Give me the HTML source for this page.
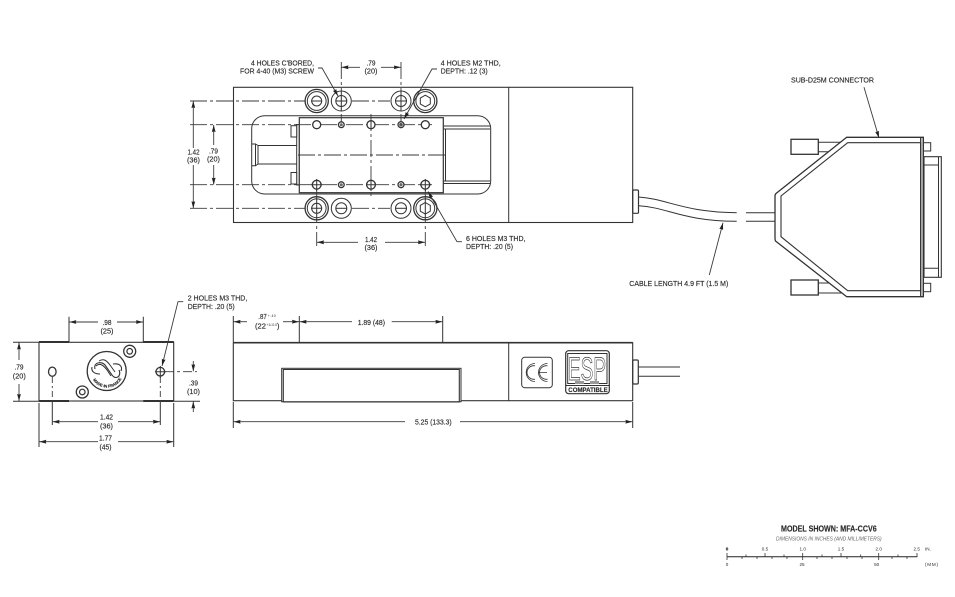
<!DOCTYPE html>
<html>
<head>
<meta charset="utf-8">
<style>
html,body{margin:0;padding:0;background:#fff;}
svg{display:block;}
text{font-family:"Liberation Sans Narrow","Liberation Sans",sans-serif;font-size:7.4px;fill:#2c2c2c;stroke:#2c2c2c;stroke-width:.15;}
.l{fill:none;stroke:#333;stroke-width:1;}
.h{fill:none;stroke:#333;stroke-width:1.3;}
.w{fill:#fff;stroke:#333;stroke-width:1;}
.t{fill:#fff;stroke:#333;stroke-width:1.3;}
.c{fill:none;stroke:#3a3a3a;stroke-width:.9;stroke-dasharray:17 3 3 3;}
.e{fill:none;stroke:#3a3a3a;stroke-width:.9;marker-end:url(#a);}
.m{text-anchor:middle;}
</style>
</head>
<body>
<svg width="955" height="597" viewBox="0 0 955 597" xmlns="http://www.w3.org/2000/svg">
<defs>
<marker id="a" markerUnits="userSpaceOnUse" markerWidth="8" markerHeight="5" refX="7" refY="2.5" orient="auto">
<path d="M0,.6 L7,2.5 L0,4.4 L.6,2.5 Z" fill="#222"/>
</marker>
</defs>

<!-- TOP VIEW -->
<rect class="l" x="233.5" y="87.3" width="399.2" height="135.2" style="stroke-width:1.1"/>
<line class="l" x1="508.7" y1="87.3" x2="508.7" y2="222.5"/>
<rect class="l" x="251.7" y="115.7" width="239" height="78.3" rx="13"/>
<path class="l" d="M443.5,126 H490 M443.5,129 H490 M443.5,181 H490 M443.5,183.5 H490 M445.5,129 V181"/>
<path class="l" d="M252,144 H255.5 V165.7 H252 M255.5,144 L258,145.5 V164 L255.5,165.7 M258,145.5 H296.7 M258,164 H296.7"/>
<rect class="l" x="296.7" y="124.5" width="2.6" height="60.5"/>
<rect class="w" x="291" y="125.7" width="5.7" height="11.3"/>
<rect class="w" x="291" y="172.5" width="5.7" height="11.5"/>
<rect class="w" x="299.3" y="117.7" width="144" height="75" style="stroke-width:1.2"/>

<path class="c" d="M190,101 H306 M352,101 H390"/>
<path class="c" d="M190,208.3 H306 M352,208.3 H390"/>
<path class="c" d="M190,124.7 H432"/>
<path class="c" d="M190,184.7 H432"/>
<path class="c" d="M298,155 H447"/>
<path class="c" d="M371,114 V196"/>
<path class="c" d="M341.3,62 V128"/>
<path class="c" d="M401,62 V128"/>
<path class="c" d="M316.7,180 V246"/>
<path class="c" d="M425.3,180 V246"/>

<!-- top row holes -->
<g>
<circle class="t" cx="316.7" cy="101" r="11.6"/><circle class="l" cx="316.7" cy="101" r="9.4"/><circle class="l" cx="316.7" cy="101" r="5"/>
<line class="l" x1="311" y1="101" x2="322" y2="101"/>
<circle class="w" cx="341.3" cy="101" r="10"/><circle class="l" cx="341.3" cy="101" r="5.5"/>
<path class="l" d="M336,101 H347 M341.3,91 V111"/>
<circle class="w" cx="401" cy="101" r="10"/><circle class="l" cx="401" cy="101" r="5.5"/>
<path class="l" d="M396,101 H406 M401,91 V111"/>
<circle class="t" cx="425.3" cy="101" r="11.6"/><circle class="l" cx="425.3" cy="101" r="9.4"/>
<path class="l" d="M425.3,95.2 L430.3,98.1 V103.9 L425.3,106.8 L420.3,103.9 V98.1 Z"/>
</g>
<!-- bottom row holes -->
<g>
<circle class="t" cx="316.7" cy="208.3" r="11.6"/><circle class="l" cx="316.7" cy="208.3" r="9.4"/><circle class="l" cx="316.7" cy="208.3" r="5"/>
<path class="l" d="M311,208.3 H322 M316.7,197 V220"/>
<circle class="w" cx="341.3" cy="208.3" r="10"/><circle class="l" cx="341.3" cy="208.3" r="5.5"/>
<line class="l" x1="336" y1="208.3" x2="347" y2="208.3"/>
<circle class="w" cx="401" cy="208.3" r="10"/><circle class="l" cx="401" cy="208.3" r="5.5"/>
<line class="l" x1="396" y1="208.3" x2="406" y2="208.3"/>
<circle class="t" cx="425.3" cy="208.3" r="11.6"/><circle class="l" cx="425.3" cy="208.3" r="9.4"/>
<path class="l" d="M425.3,202.5 L430.3,205.4 V211.2 L425.3,214.1 L420.3,211.2 V205.4 Z M425.3,197 V220"/>
</g>
<!-- inner holes -->
<g>
<circle class="t" cx="316.7" cy="124.7" r="4"/>
<circle class="t" cx="341.3" cy="124.7" r="2.9"/><circle cx="341.3" cy="124.7" r="1.5" fill="#666"/>
<circle class="t" cx="371" cy="124.7" r="4"/><line class="l" x1="371" y1="120" x2="371" y2="129"/>
<circle class="t" cx="401" cy="124.7" r="3"/><circle cx="401" cy="124.7" r="1.8" fill="#555"/>
<circle class="t" cx="425.3" cy="124.7" r="4"/>
<circle class="t" cx="316.7" cy="184.7" r="4.4"/><path class="l" d="M311,184.7 H322 M316.7,179 V191"/>
<circle class="t" cx="341.3" cy="184.7" r="2.9"/><circle cx="341.3" cy="184.7" r="1.5" fill="#666"/>
<circle class="t" cx="371" cy="184.7" r="4.4"/><path class="l" d="M371,179 V191 M366,184.7 H376"/>
<circle class="t" cx="401" cy="184.7" r="3"/><circle cx="401" cy="184.7" r="1.6" fill="#666"/>
<circle class="t" cx="425.3" cy="184.7" r="4.4"/><path class="l" d="M425.3,179 V191 M420,184.7 H431"/>
</g>

<!-- top dims -->
<path class="e" d="M193.3,148 V101"/>
<path class="e" d="M193.3,165 V208.3"/>
<path class="e" d="M213.7,145 V125"/>
<path class="e" d="M213.7,165 V184.7"/>
<path class="e" d="M360,67.3 H341.5"/>
<path class="e" d="M381,67.3 H400.8"/>
<path class="e" d="M358,242.3 H317"/>
<path class="e" d="M385,242.3 H425"/>
<path class="e" d="M318,68 L322,68 L338,96"/>
<path class="e" d="M437,69 L432,69 L404,119"/>
<path class="e" d="M462,241.7 L457,241.7 L428,191.5"/>

<text x="314" y="65.5" text-anchor="end" textLength="63" lengthAdjust="spacingAndGlyphs">4 HOLES C'BORED,</text>
<text x="240" y="73.5" textLength="74" lengthAdjust="spacingAndGlyphs">FOR 4-40 (M3) SCREW</text>
<text x="366.5" y="65.5" textLength="9" lengthAdjust="spacingAndGlyphs">.79</text>
<text x="364.5" y="73.5" textLength="13" lengthAdjust="spacingAndGlyphs">(20)</text>
<text x="440.7" y="65.5" textLength="60" lengthAdjust="spacingAndGlyphs">4 HOLES M2 THD,</text>
<text x="440.7" y="73.5" textLength="47" lengthAdjust="spacingAndGlyphs">DEPTH: .12 (3)</text>
<text x="466" y="241" textLength="59.5" lengthAdjust="spacingAndGlyphs">6 HOLES M3 THD,</text>
<text x="466" y="249" textLength="47" lengthAdjust="spacingAndGlyphs">DEPTH: .20 (5)</text>
<text x="365" y="242" textLength="12" lengthAdjust="spacingAndGlyphs">1.42</text>
<text x="364.5" y="250" textLength="13" lengthAdjust="spacingAndGlyphs">(36)</text>
<text x="187.5" y="154.7" textLength="12" lengthAdjust="spacingAndGlyphs">1.42</text>
<text x="187" y="162.7" textLength="13" lengthAdjust="spacingAndGlyphs">(36)</text>
<text x="209" y="153.5" textLength="9" lengthAdjust="spacingAndGlyphs">.79</text>
<text x="207" y="161.7" textLength="13" lengthAdjust="spacingAndGlyphs">(20)</text>

<!-- cable top -->
<rect class="l" x="632.7" y="190" width="5.8" height="23.3" rx="1.2" style="stroke-width:1.2"/>
<path class="l" d="M638.5,197 C668,199 682,212 736.7,212.7 M746,212.7 H775"/>
<path class="l" d="M638.5,205.7 C668,207.5 682,221 736.7,221.3 M746,221.3 H775"/>

<!-- connector -->
<rect class="t" x="791" y="139.3" width="27.3" height="15"/>
<rect class="t" x="791" y="280" width="27.3" height="15"/>
<path class="l" d="M818.3,142.3 H842 M818.3,151.7 H830 M818.3,283 H830 M818.3,293 H845"/>
<rect class="l" x="923.3" y="142.7" width="7.4" height="8.3"/>
<rect class="l" x="923.3" y="283.3" width="7.4" height="8.4"/>
<rect class="l" x="924" y="156.7" width="17.3" height="120.6" style="stroke-width:1.1"/>
<path class="l" d="M924,165 H938.5 V268.3 H924 M938.5,157 V165 M938.5,268.3 V277"/>
<path class="t" d="M846.7,137.3 H923.3 V296.7 H846.7 L775.5,241 Q775,240 775,238 V196 Q775,194.5 776,193.5 Z"/>
<path class="l" d="M847.7,142.7 H920.7 V290.7 H847.7 L781,236.7 V196 Z" style="stroke-width:1.1"/>
<line class="l" x1="923.3" y1="137.3" x2="923.3" y2="296.7" style="stroke-width:1.3"/>
<line class="l" x1="920.7" y1="137.3" x2="920.7" y2="296.7" style="stroke-width:1.3"/>

<text x="791" y="82.7" textLength="83" lengthAdjust="spacingAndGlyphs">SUB-D25M CONNECTOR</text>
<path class="e" d="M864,87.3 L879,138"/>
<text x="629.3" y="286" textLength="99" lengthAdjust="spacingAndGlyphs">CABLE LENGTH 4.9 FT (1.5 M)</text>
<path class="e" d="M709.3,275 L723,222.7"/>

<!-- FRONT VIEW -->
<rect class="l" x="39" y="342.3" width="134.7" height="58.7" style="stroke-width:1.1"/>
<path class="h" d="M39,342 H69 M143.3,342 H173.7 M39,401 H69 M143.3,401 H173.7" style="stroke-width:1.9"/>
<path class="l" d="M69,316.7 V342 M143.3,316.7 V342 M13,342.3 H39 M13,401.3 H39 M173.7,401.3 H200 M39,403 V447 M173.7,403 V447"/>
<path class="e" d="M98,322 H69.3"/>
<path class="e" d="M117,322 H143"/>
<path class="e" d="M19,360 V342.5"/>
<path class="e" d="M19,384 V401"/>
<path class="e" d="M98,421.7 H52.6"/>
<path class="e" d="M118,421.7 H160"/>
<path class="e" d="M98,441.7 H39.3"/>
<path class="e" d="M118,441.7 H173.4"/>
<path class="l" d="M52.3,402 V425 M160.3,402 V425"/>
<path class="c" d="M52.3,377 V403 M160.3,377 V403" style="stroke-dasharray:6 3 2 3"/>
<path class="c" d="M165,371.7 H197" style="stroke-dasharray:9 3 3 3"/>
<path class="e" d="M193.3,361 V371.3"/>
<path class="e" d="M193.3,412 V401.5"/>
<path class="e" d="M183.3,301.7 L178,301.7 L162,366"/>

<ellipse class="t" cx="52.3" cy="371.7" rx="3.8" ry="4.6"/>
<circle class="t" cx="160.3" cy="371.7" r="4.3"/>
<path class="l" d="M155,371.7 H166 M160.3,366 V378"/>
<circle class="t" cx="106.7" cy="371" r="19.5"/>
<path class="h" d="M95,369 C93,362 102,361 105,365 L112,375 C115,380 122,377 119,370 M100,374 C94,374 91,371 92,367 M113,364 C119,363 123,366 121,371" style="stroke-width:1.1"/>
<path class="l" d="M99,361 C104,358 107,361 110,365 L115,372 M96,366 C100,362 104,366 107,370 L111,376"/>
<path id="lg" d="M92,378 A16.5,16.5 0 0 0 122,378" fill="none"/>
<text style="font-size:4px;font-weight:bold"><textPath href="#lg" startOffset="2">MADE IN FRANCE</textPath></text>
<circle class="t" cx="129.7" cy="351.3" r="6"/><circle class="l" cx="129.7" cy="351.3" r="2.8" style="stroke-width:1.2"/>
<circle class="t" cx="82.3" cy="392" r="6"/><circle class="l" cx="82.3" cy="392" r="2.8" style="stroke-width:1.2"/>

<text x="102.5" y="325" textLength="9" lengthAdjust="spacingAndGlyphs">.98</text>
<text x="100.5" y="333.3" textLength="13" lengthAdjust="spacingAndGlyphs">(25)</text>
<text x="14.5" y="369.3" textLength="9" lengthAdjust="spacingAndGlyphs">.79</text>
<text x="12.8" y="378.3" textLength="13" lengthAdjust="spacingAndGlyphs">(20)</text>
<text x="100" y="419.3" textLength="13" lengthAdjust="spacingAndGlyphs">1.42</text>
<text x="100" y="428.3" textLength="13" lengthAdjust="spacingAndGlyphs">(36)</text>
<text x="99" y="440.7" textLength="13" lengthAdjust="spacingAndGlyphs">1.77</text>
<text x="99.5" y="449.3" textLength="12" lengthAdjust="spacingAndGlyphs">(45)</text>
<text x="189" y="385.7" textLength="9" lengthAdjust="spacingAndGlyphs">.39</text>
<text x="187" y="394" textLength="13" lengthAdjust="spacingAndGlyphs">(10)</text>
<text x="187.7" y="300.7" textLength="59.6" lengthAdjust="spacingAndGlyphs">2 HOLES M3 THD,</text>
<text x="187.7" y="309" textLength="47" lengthAdjust="spacingAndGlyphs">DEPTH: .20 (5)</text>

<!-- SIDE VIEW -->
<rect class="l" x="233.3" y="342.7" width="399.4" height="58" style="stroke-width:1.1"/>
<line class="h" x1="233.3" y1="342.7" x2="632.7" y2="342.7" style="stroke-width:1.7"/>
<line class="l" x1="508.7" y1="342.7" x2="508.7" y2="400.7"/>
<rect class="w" x="281.7" y="368.3" width="179.3" height="33.4"/>
<path class="l" d="M283.3,369.5 H459.3 V402 H283.3 Z" style="stroke-width:1.1"/>
<path class="l" d="M233.3,316 V342 M299.3,316 V342 M442.7,316 V342 M233.3,402 V428 M632.7,402 V428"/>
<path class="e" d="M247,321.7 H233.6"/>
<path class="e" d="M283,321.7 H299"/>
<path class="e" d="M352,321.7 H299.6"/>
<path class="e" d="M391.7,321.7 H442.4"/>
<path class="e" d="M405,421.7 H233.6"/>
<path class="e" d="M460,421.7 H632.4"/>

<text x="258.3" y="319" textLength="8.5" lengthAdjust="spacingAndGlyphs">.87</text>
<text x="267.7" y="317" style="font-size:3.5px;stroke:none" textLength="8">+.40</text>
<text x="255" y="328.3" textLength="11" lengthAdjust="spacingAndGlyphs">(22</text>
<text x="266.5" y="326" style="font-size:3.5px;stroke:none" textLength="10.5">+1/-0.0</text>
<text x="277" y="328.3">)</text>
<text x="357.7" y="325" textLength="27.3" lengthAdjust="spacingAndGlyphs">1.89 (48)</text>
<text x="415" y="424.3" textLength="36.7" lengthAdjust="spacingAndGlyphs">5.25 (133.3)</text>

<rect class="l" x="521.7" y="357.3" width="30.6" height="30.4" rx="3"/>
<path class="l" d="M535,363.5 A8.8,9 0 1 0 535,381.5 M535,365.8 A6.8,6.8 0 1 0 535,379.2" style="stroke-width:.8"/>
<path class="l" d="M547.5,363.5 A9,9 0 1 0 547.5,381.5 M547.5,365.8 A6.8,6.8 0 1 0 547.5,379.2 M538,372.5 H547" style="stroke-width:.8"/>

<rect class="l" x="565.7" y="350.7" width="43.6" height="43" rx="3" style="stroke-width:1.2"/>
<rect class="l" x="567.7" y="353.5" width="39.3" height="30"/>
<text x="568" y="380" textLength="38" lengthAdjust="spacingAndGlyphs" style="font-size:32px;fill:#fff;stroke:#333;stroke-width:.7">ESP</text>
<path d="M575,381 h9 v3 h-9 Z M590,381 h9 v3 h-9 Z" fill="#999"/>
<line class="l" x1="566" y1="385.5" x2="609" y2="385.5"/>
<text x="568.3" y="392" textLength="39.4" lengthAdjust="spacingAndGlyphs" style="font-size:6.5px;font-weight:bold;font-family:'Liberation Sans',sans-serif">COMPATIBLE</text>

<rect class="l" x="632.7" y="360" width="5.6" height="24" rx="1.2" style="stroke-width:1.2"/>
<path class="l" d="M638.3,367 H680 M638.3,376.3 H680"/>

<!-- LEGEND -->
<text x="781" y="531.7" textLength="95.7" lengthAdjust="spacingAndGlyphs" style="font-size:8px;font-weight:bold;font-family:'Liberation Sans',sans-serif">MODEL SHOWN: MFA-CCV6</text>
<text x="776" y="540.3" textLength="105.7" lengthAdjust="spacingAndGlyphs" style="font-size:5px;font-style:italic;fill:#666;stroke:none">DIMENSIONS IN INCHES (AND MILLIMETERS)</text>
<line x1="727" y1="556.7" x2="917.3" y2="556.7" stroke="#222" stroke-width="1"/>
<path d="M727,553 V560 M765,553 V557 M802.7,553 V560 M841,553 V557 M878.7,553 V560 M917,553 V557 M746,554.5 V557 M784,554.5 V557 M822,554.5 V557 M860.7,554.5 V557 M898,554.5 V557 M742,557 V559 M757,557 V559 M772,557 V559 M787,557 V559 M817,557 V559 M832,557 V559 M847,557 V559 M862,557 V559 M892,557 V559 M907,557 V559" fill="none" stroke="#333" stroke-width=".8"/>
<g>
<text class="m" x="727" y="550.3" style="font-size:4.6px;font-weight:bold">0</text>
<text class="m" x="765" y="550.3" style="font-size:4.6px;stroke:none">0.5</text>
<text class="m" x="802.7" y="550.3" style="font-size:4.6px;stroke:none">1.0</text>
<text class="m" x="841" y="550.3" style="font-size:4.6px;stroke:none">1.5</text>
<text class="m" x="878.7" y="550.3" style="font-size:4.6px;stroke:none">2.0</text>
<text class="m" x="916.7" y="550.3" style="font-size:4.6px;stroke:none">2.5</text>
<text x="925" y="550.3" style="font-size:4.6px;stroke:none">IN.</text>
<text class="m" x="727" y="566" style="font-size:4.6px;stroke:none">0</text>
<text class="m" x="802" y="566" style="font-size:4.6px;stroke:none">25</text>
<text class="m" x="876.7" y="566" style="font-size:4.6px;stroke:none">50</text>
<text x="925" y="566" style="font-size:4.6px;stroke:none" textLength="13">(MM)</text>
</g>
</svg>
</body>
</html>
